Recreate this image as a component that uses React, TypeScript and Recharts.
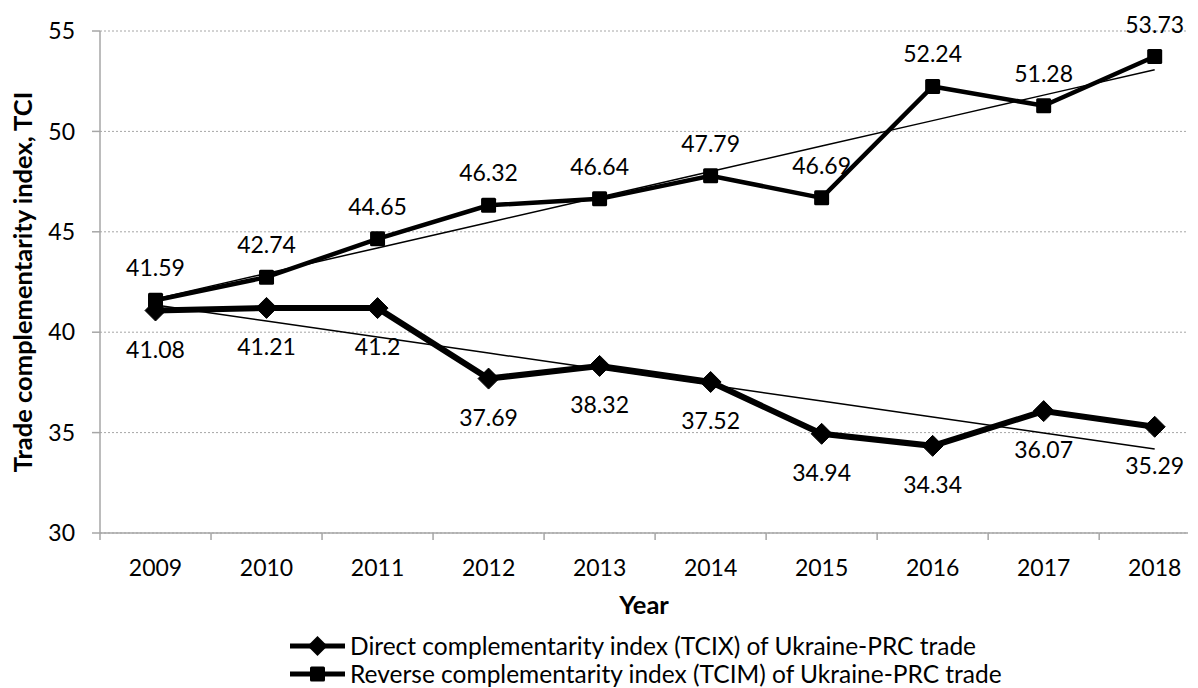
import React from "react";
import {
  LineChart,
  Line,
  XAxis,
  YAxis,
  CartesianGrid,
  Legend,
  LabelList,
} from "recharts";

const years = [2009, 2010, 2011, 2012, 2013, 2014, 2015, 2016, 2017, 2018];
const directValues = [41.08, 41.21, 41.2, 37.69, 38.32, 37.52, 34.94, 34.34, 36.07, 35.29];
const reverseValues = [41.59, 42.74, 44.65, 46.32, 46.64, 47.79, 46.69, 52.24, 51.28, 53.73];
const yTicks = [30, 35, 40, 45, 50, 55];

const directName = "Direct complementarity index (TCIX) of Ukraine-PRC trade";
const reverseName = "Reverse complementarity index (TCIM) of Ukraine-PRC trade";
const yTitle = "Trade complementarity index, TCI";
const xTitle = "Year";

// Least-squares linear trend (like Excel's linear trendline)
function linearFit(xs: number[], ys: number[]): number[] {
  const n = xs.length;
  const mx = xs.reduce((a, b) => a + b, 0) / n;
  const my = ys.reduce((a, b) => a + b, 0) / n;
  let sxy = 0;
  let sxx = 0;
  for (let i = 0; i < n; i++) {
    sxy += (xs[i] - mx) * (ys[i] - my);
    sxx += (xs[i] - mx) * (xs[i] - mx);
  }
  const slope = sxy / sxx;
  return xs.map((x) => my + slope * (x - mx));
}

const directTrend = linearFit(years, directValues);
const reverseTrend = linearFit(years, reverseValues);

const data = years.map((year, i) => ({
  year,
  direct: directValues[i],
  reverse: reverseValues[i],
  directTrend: directTrend[i],
  reverseTrend: reverseTrend[i],
}));

const FONT = "Lato, 'Open Sans', sans-serif";
const AXIS_COLOR = "#a6a6a6";
const CHART_W = 1190;
const CHART_H = 680;
const MARGIN = { top: 23, right: 10, bottom: 0, left: 0 };
const Y_AXIS_W = 92;
const X_DOMAIN: [number, number] = [2008.5, 2018.3];
const PLOT_W = CHART_W - MARGIN.left - MARGIN.right - Y_AXIS_W;
const PX_PER_YEAR = PLOT_W / (X_DOMAIN[1] - X_DOMAIN[0]);

const Diamond = (props: any) => {
  const { cx, cy } = props;
  if (cx == null || cy == null) return null;
  const r = 10.5;
  return (
    <polygon
      points={`${cx},${cy - r} ${cx + r},${cy} ${cx},${cy + r} ${cx - r},${cy}`}
      fill="#000"
      stroke="#000"
      strokeWidth={1}
    />
  );
};

const Square = (props: any) => {
  const { cx, cy } = props;
  if (cx == null || cy == null) return null;
  const s = 15;
  return <rect x={cx - s / 2} y={cy - s / 2} width={s} height={s} rx={1.5} fill="#000" />;
};

const XTick = (props: any) => {
  const { x, y, payload } = props;
  const bx = x - PX_PER_YEAR / 2;
  return (
    <g>
      <line x1={bx} x2={bx} y1={y} y2={y + 7} stroke={AXIS_COLOR} strokeWidth={1.5} />
      <text
        x={x}
        y={y + 43}
        textAnchor="middle"
        fontFamily={FONT}
        fontSize={23}
        fill="#000"
      >
        {payload.value}
      </text>
    </g>
  );
};

const YTitle = (props: any) => {
  const vb = props.viewBox || {};
  const x = (vb.x ?? 0) + 14;
  const y = (vb.y ?? 0) + (vb.height ?? 0) / 2;
  return (
    <text
      x={x}
      y={y}
      transform={`rotate(-90, ${x}, ${y})`}
      textAnchor="middle"
      dominantBaseline="central"
      fontFamily={FONT}
      fontWeight="bold"
      fontSize={25.5}
      fill="#000"
    >
      {yTitle}
    </text>
  );
};

const XTitle = (props: any) => {
  const vb = props.viewBox || {};
  const x = (vb.x ?? 0) + (vb.width ?? 0) / 2;
  const y = (vb.y ?? 0) + 71;
  return (
    <text
      x={x}
      y={y}
      textAnchor="middle"
      dominantBaseline="central"
      fontFamily={FONT}
      fontWeight="bold"
      fontSize={25.5}
      fill="#000"
    >
      {xTitle}
    </text>
  );
};

const LegendBox = () => {
  const row = (marker: "diamond" | "square", label: string) => (
    <div style={{ display: "flex", alignItems: "center", height: 28, lineHeight: "28px" }}>
      <svg width={55} height={24} style={{ marginRight: 5, flex: "none" }}>
        <line x1={0} x2={55} y1={12} y2={12} stroke="#000" strokeWidth={5} />
        {marker === "diamond" ? (
          <polygon points="27.5,2 37.5,12 27.5,22 17.5,12" fill="#000" />
        ) : (
          <rect x={20} y={4.5} width={15} height={15} rx={1.5} fill="#000" />
        )}
      </svg>
      <span style={{ whiteSpace: "nowrap" }}>{label}</span>
    </div>
  );
  return (
    <div
      style={{
        height: 60,
        boxSizing: "border-box",
        paddingTop: 4,
        paddingLeft: 282,
        fontFamily: FONT,
        fontSize: 24.5,
        color: "#000",
      }}
    >
      {row("diamond", directName)}
      {row("square", reverseName)}
    </div>
  );
};

export default function App() {
  return (
    <div style={{ width: CHART_W, height: CHART_H, fontFamily: FONT }}>
      <LineChart width={CHART_W} height={CHART_H} data={data} margin={MARGIN}>
        <CartesianGrid vertical={false} stroke={AXIS_COLOR} strokeDasharray="2 2" />
        <XAxis
          dataKey="year"
          type="number"
          domain={X_DOMAIN}
          allowDataOverflow
          ticks={years}
          interval={0}
          height={95}
          tickSize={0}
          tickMargin={0}
          tickLine={false}
          axisLine={{ stroke: AXIS_COLOR, strokeWidth: 1.5 }}
          tick={<XTick />}
          label={(p: any) => <XTitle {...p} />}
        />
        <YAxis
          width={Y_AXIS_W}
          domain={[30, 55]}
          ticks={yTicks}
          interval={0}
          tickSize={8}
          tickMargin={17}
          axisLine={{ stroke: AXIS_COLOR, strokeWidth: 1.5 }}
          tickLine={{ stroke: AXIS_COLOR, strokeWidth: 1.5 }}
          tick={{ fill: "#000", fontSize: 23, fontFamily: FONT }}
          label={(p: any) => <YTitle {...p} />}
        />
        <Legend verticalAlign="bottom" content={() => <LegendBox />} />
        <Line
          dataKey="directTrend"
          stroke="#000"
          strokeWidth={1.5}
          dot={false}
          activeDot={false}
          legendType="none"
          isAnimationActive={false}
        />
        <Line
          dataKey="reverseTrend"
          stroke="#000"
          strokeWidth={1.5}
          dot={false}
          activeDot={false}
          legendType="none"
          isAnimationActive={false}
        />
        <Line
          dataKey="direct"
          name={directName}
          stroke="#000"
          strokeWidth={6}
          dot={<Diamond />}
          activeDot={false}
          isAnimationActive={false}
        >
          <LabelList
            dataKey="direct"
            position="bottom"
            offset={31}
            fill="#000"
            fontSize={23}
            fontFamily={FONT}
          />
        </Line>
        <Line
          dataKey="reverse"
          name={reverseName}
          stroke="#000"
          strokeWidth={4.5}
          dot={<Square />}
          activeDot={false}
          isAnimationActive={false}
        >
          <LabelList
            dataKey="reverse"
            position="top"
            offset={24}
            fill="#000"
            fontSize={23}
            fontFamily={FONT}
          />
        </Line>
      </LineChart>
    </div>
  );
}
